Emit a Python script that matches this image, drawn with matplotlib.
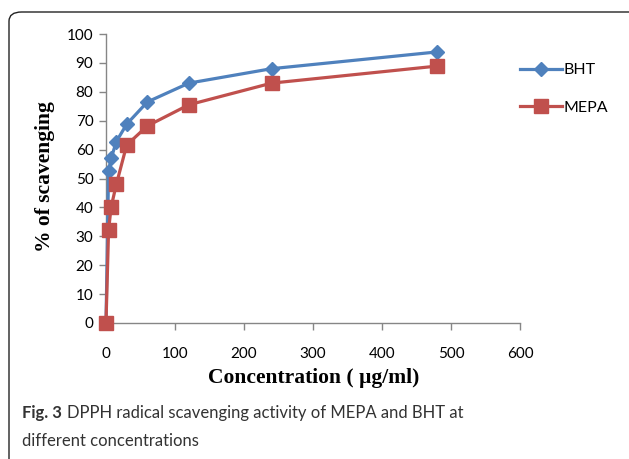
"""DPPH radical scavenging activity of MEPA and BHT."""
import matplotlib.pyplot as plt
from matplotlib.patches import FancyBboxPatch

# Data
concentration = [0, 3.75, 7.5, 15, 30, 60, 120, 240, 480]
bht = [0, 52.6, 57.0, 62.8, 68.8, 76.5, 83.0, 88.0, 93.8]
mepa = [0, 32.2, 40.2, 48.0, 61.6, 68.2, 75.5, 83.0, 88.9]

x_ticks = [0, 100, 200, 300, 400, 500, 600]
y_ticks = list(range(0, 101, 10))

BLUE = "#4F81BD"
RED = "#C0504D"
GRAY = "#868686"
TEXT = "#333333"


def main():
    W, H = 629, 459
    fig = plt.figure(figsize=(W / 100, H / 100), dpi=100)

    # Rounded frame around figure and caption
    frame = FancyBboxPatch(
        (9 / W, -10 / H), 650 / W, 457 / H,
        boxstyle="round,pad=0,rounding_size=0.02",
        transform=fig.transFigure, fill=False, edgecolor="#222222",
        linewidth=1.0, clip_on=False,
    )
    fig.patches.append(frame)

    ax = fig.add_axes([106 / W, 1 - 323 / H, 414 / W, 289 / H])
    ax.plot(concentration, bht, color=BLUE, lw=2.3, marker="D", ms=7,
            label="BHT", clip_on=False, zorder=3)
    ax.plot(concentration, mepa, color=RED, lw=2.3, marker="s", ms=9.5,
            label="MEPA", clip_on=False, zorder=4)

    ax.set_xlim(0, 600)
    ax.set_ylim(0, 100)
    ax.set_xticks(x_ticks)
    ax.set_yticks(y_ticks)
    tick_font = {"family": "Lato", "size": 11}
    ax.set_xticklabels([str(t) for t in x_ticks], fontdict=tick_font)
    ax.set_yticklabels([str(t) for t in y_ticks], fontdict=tick_font)
    ax.tick_params(direction="out", length=5, color=GRAY, width=1, pad=4)
    ax.tick_params(axis="x", pad=12)
    for side in ("top", "right"):
        ax.spines[side].set_visible(False)
    for side in ("left", "bottom"):
        ax.spines[side].set_color(GRAY)
        ax.spines[side].set_linewidth(1)

    fig.text(314 / W, 1 - 378 / H, "Concentration ( µg/ml)",
             family="Liberation Serif", weight="bold", size=15.5,
             ha="center", va="center")
    fig.text(45 / W, 1 - 177 / H, "% of scavenging",
             family="Liberation Serif", weight="bold", size=15.5,
             ha="center", va="center", rotation=90)

    ax.legend(loc="upper left", bbox_to_anchor=(520 / W, 1 - 63 / H),
              bbox_transform=fig.transFigure,
              frameon=False, prop={"family": "Lato", "size": 11.5},
              handlelength=2.6, handletextpad=0.1, labelspacing=1.45,
              borderaxespad=0, borderpad=0)

    fig.canvas.draw()
    bold = fig.text(22 / W, 1 - 413 / H, "Fig. 3", family="Lato",
                    weight="bold", size=12, va="center", color=TEXT)
    bb = bold.get_window_extent(fig.canvas.get_renderer())
    fig.text(bb.x1 / W + 5 / W, 1 - 413 / H,
             "DPPH radical scavenging activity of MEPA and BHT at",
             family="Lato", size=12, va="center", color=TEXT)
    fig.text(22 / W, 1 - 441 / H, "different concentrations",
             family="Lato", size=12, va="center", color=TEXT)

    fig.savefig("out.png", dpi=100)


if __name__ == "__main__":
    main()
